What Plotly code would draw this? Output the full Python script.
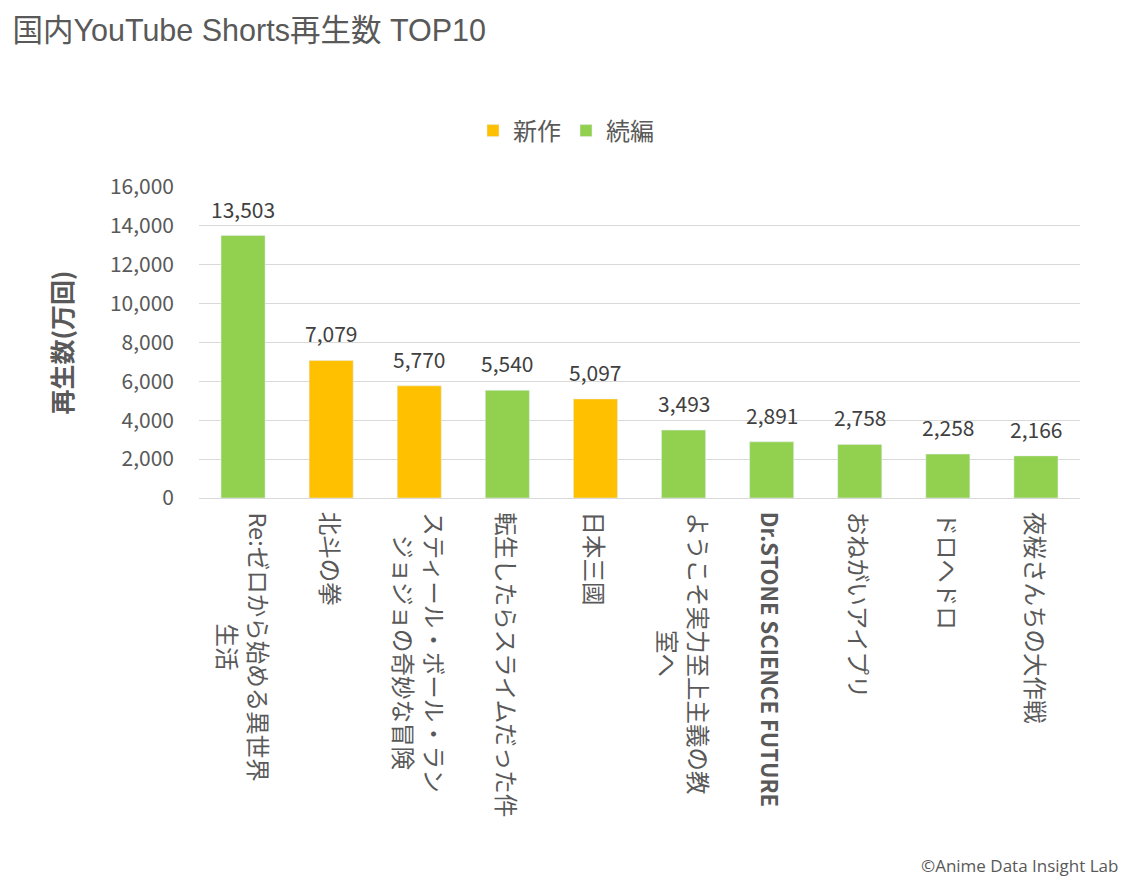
import plotly.graph_objects as go

categories = [
    "Re:ゼロから始める異世界生活",
    "北斗の拳",
    "スティール・ボール・ラン ジョジョの奇妙な冒険",
    "転生したらスライムだった件",
    "日本三國",
    "ようこそ実力至上主義の教室へ",
    "Dr.STONE SCIENCE FUTURE",
    "おねがいアイプリ",
    "ドロヘドロ",
    "夜桜さんちの大作戦",
]
tick_labels = [
    "Re:ゼロから始める異世界<br>生活",
    "北斗の拳",
    "スティール・ボール・ラン<br>ジョジョの奇妙な冒険",
    "転生したらスライムだった件",
    "日本三國",
    "ようこそ実力至上主義の教<br>室へ",
    "<b><span style='font-size:22px'>Dr.STONE SCIENCE FUTURE</span></b>",
    "おねがいアイプリ",
    "ドロヘドロ",
    "夜桜さんちの大作戦",
]
views = [13503, 7079, 5770, 5540, 5097, 3493, 2891, 2758, 2258, 2166]
kinds = ["続編", "新作", "新作", "続編", "新作", "続編", "続編", "続編", "続編", "続編"]
series_names = ["新作", "続編"]
series_colors = {"新作": "#FFC000", "続編": "#92D050"}
y_ticks = [0, 2000, 4000, 6000, 8000, 10000, 12000, 14000, 16000]

GRAY = "#595959"
CJK = "Noto Sans CJK JP, Liberation Sans, sans-serif"

W, H = 1132, 884
ML, MR, MT, MB = 199, 52, 187, 386
PW, PH = W - ML - MR, H - MT - MB

fig = go.Figure()
for s in series_names:
    xs = [c for c, k in zip(categories, kinds) if k == s]
    ys = [v for v, k in zip(views, kinds) if k == s]
    fig.add_trace(go.Bar(x=xs, y=ys, name=s, marker_color=series_colors[s],
                         width=0.5, hoverinfo="x+y"))

annotations = []
for c, v in zip(categories, views):
    annotations.append(dict(x=c, y=v, xref="x", yref="y", text=f"{v:,}",
                            showarrow=False, yanchor="middle", yshift=27,
                            font=dict(size=21, color="#404040", family=CJK)))
for c, t in zip(categories, tick_labels):
    annotations.append(dict(x=c, y=0, xref="x", yref="paper", text=t,
                            showarrow=False, textangle=90, xanchor="center",
                            yanchor="top", yshift=-12, align="center",
                            font=dict(size=23.5, color=GRAY, family=CJK)))
annotations.append(dict(x=(1120 - ML) / PW, y=(H - MB - 866) / PH,
                        xref="paper", yref="paper",
                        text="©Anime Data Insight Lab", showarrow=False,
                        xanchor="right", yanchor="middle",
                        font=dict(size=17, color=GRAY, family="Open Sans, Noto Sans, sans-serif")))

fig.update_layout(
    width=W, height=H,
    paper_bgcolor="white", plot_bgcolor="white",
    margin=dict(l=ML, r=MR, t=MT, b=MB, autoexpand=False),
    barmode="overlay",
    title=dict(text="国内YouTube Shorts再生数 TOP10", x=0.011, xref="container",
               xanchor="left", y=1 - 30 / H, yref="container", yanchor="middle",
               font=dict(size=30.5, color=GRAY, family="Liberation Sans, Noto Sans CJK JP, sans-serif")),
    legend=dict(orientation="h", xref="container", yref="container",
                x=0.5, xanchor="center", y=1 - 131 / H, yanchor="middle",
                font=dict(size=24, color=GRAY, family=CJK),
                traceorder="normal"),
    showlegend=True,
    annotations=annotations,
    xaxis=dict(categoryorder="array", categoryarray=categories,
               showticklabels=False, showgrid=False, showline=False,
               zeroline=False, ticks=""),
    yaxis=dict(range=[0, 16000], tickvals=y_ticks,
               ticktext=[f"{t:,}" for t in y_ticks],
               showgrid=True, gridcolor="#D9D9D9", gridwidth=1.3,
               zeroline=True, zerolinecolor="#D9D9D9", zerolinewidth=1.3,
               showline=False, ticks="", ticklabelstandoff=24,
               tickfont=dict(size=21, color=GRAY, family=CJK),
               title=dict(text="<b>再生数(万回)</b>", standoff=30,
                          font=dict(size=25, color=GRAY, family=CJK))),
)

fig.write_html("out.html")
